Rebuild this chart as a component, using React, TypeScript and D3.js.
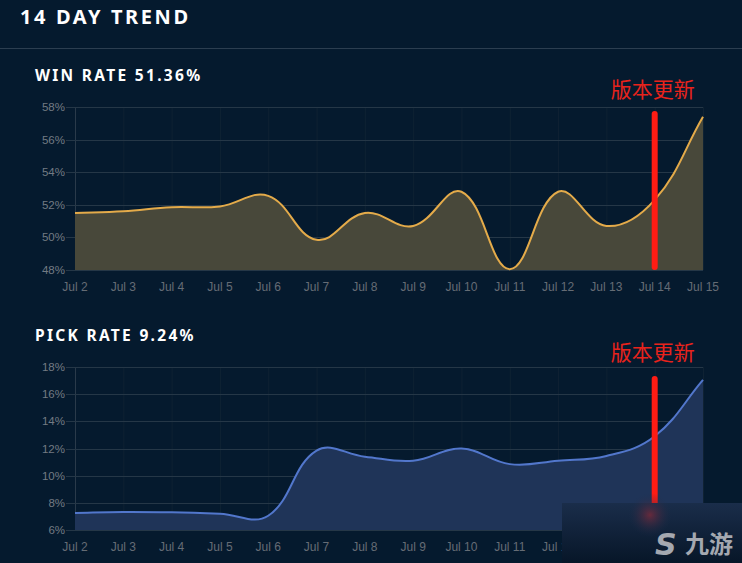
import React, { useEffect, useRef } from "react";
import * as d3 from "d3";

const dates = ["Jul 2", "Jul 3", "Jul 4", "Jul 5", "Jul 6", "Jul 7", "Jul 8", "Jul 9", "Jul 10", "Jul 11", "Jul 12", "Jul 13", "Jul 14", "Jul 15"];
const winRate = [51.5, 51.6, 51.85, 51.9, 52.55, 49.85, 51.5, 50.7, 52.8, 48.05, 52.8, 50.7, 52.3, 57.4];
const pickRate = [7.26, 7.33, 7.3, 7.2, 7.05, 11.85, 11.4, 11.1, 12.0, 10.85, 11.1, 11.45, 12.9, 17.05];
const winTicks = [48, 50, 52, 54, 56, 58];
const pickTicks = [6, 8, 10, 12, 14, 16, 18];
const patchDate = "Jul 14";
const patchLabel = "版本更新";

// chart.js style spline (tension 0.4), control points kept inside the plot
const splinePath = (pts: [number, number][], yMin: number, yMax: number, t = 0.4) => {
  const cps = pts.map((cur, i) => {
    const prev = pts[i - 1] || cur;
    const next = pts[i + 1] || cur;
    const d01 = Math.hypot(cur[0] - prev[0], cur[1] - prev[1]);
    const d12 = Math.hypot(next[0] - cur[0], next[1] - cur[1]);
    let s01 = d01 / (d01 + d12);
    let s12 = d12 / (d01 + d12);
    if (isNaN(s01)) s01 = 0;
    if (isNaN(s12)) s12 = 0;
    const fa = t * s01;
    const fb = t * s12;
    const clamp = (v: number) => Math.max(yMin, Math.min(yMax, v));
    return {
      prev: [cur[0] - fa * (next[0] - prev[0]), clamp(cur[1] - fa * (next[1] - prev[1]))],
      next: [cur[0] + fb * (next[0] - prev[0]), clamp(cur[1] + fb * (next[1] - prev[1]))],
    };
  });
  const p = d3.path();
  p.moveTo(pts[0][0], pts[0][1]);
  for (let i = 1; i < pts.length; i++) {
    p.bezierCurveTo(cps[i - 1].next[0], cps[i - 1].next[1], cps[i].prev[0], cps[i].prev[1], pts[i][0], pts[i][1]);
  }
  return p.toString();
};

const App = () => {
  const svgRef = useRef<SVGSVGElement>(null);

  useEffect(() => {
    const width = 742;
    const height = 563;
    const svg = d3.select(svgRef.current).attr("width", width).attr("height", height);
    svg.selectAll("*").remove();

    svg.append("rect").attr("width", width).attr("height", height).attr("fill", "#051a2e");

    svg
      .append("text")
      .attr("x", 20)
      .attr("y", 24)
      .attr("fill", "#ffffff")
      .attr("font-family", "'Noto Sans', sans-serif")
      .attr("font-weight", "bold")
      .attr("font-size", 20)
      .attr("letter-spacing", 2.6)
      .text("14 DAY TREND");

    svg.append("line").attr("x1", 0).attr("x2", width).attr("y1", 48.5).attr("y2", 48.5).attr("stroke", "#2c3e50");

    const x = d3.scalePoint().domain(dates).range([75, 703]);

    const drawChart = (opts: {
      title: string;
      titleY: number;
      values: number[];
      ticks: number[];
      top: number;
      bottom: number;
      line: string;
      fill: string;
      patchTop: number;
      patchBottom: number;
      labelY: number;
      xLabelMax: number;
    }) => {
      const { title, titleY, values, ticks, top, bottom, line, fill } = opts;
      const y = d3
        .scaleLinear()
        .domain([ticks[0], ticks[ticks.length - 1]])
        .range([bottom, top]);
      const g = svg.append("g");

      g.append("text")
        .attr("x", 35)
        .attr("y", titleY)
        .attr("fill", "#ffffff")
        .attr("font-family", "'Noto Sans', sans-serif")
        .attr("font-weight", "bold")
        .attr("font-size", 15.5)
        .attr("letter-spacing", 2.3)
        .text(title);

      // vertical grid
      g.selectAll(".vg")
        .data(dates)
        .join("line")
        .attr("x1", (d) => x(d)! + 0.5)
        .attr("x2", (d) => x(d)! + 0.5)
        .attr("y1", top)
        .attr("y2", bottom)
        .attr("stroke", (d, i) => (i === 0 ? "#2a3a4a" : "#0f2233"));

      // horizontal grid
      g.selectAll(".hg")
        .data(ticks)
        .join("line")
        .attr("x1", 66)
        .attr("x2", 703)
        .attr("y1", (d) => Math.round(y(d)) + 0.5)
        .attr("y2", (d) => Math.round(y(d)) + 0.5)
        .attr("stroke", "#253747");

      g.selectAll(".yl")
        .data(ticks)
        .join("text")
        .attr("x", 65)
        .attr("y", (d) => y(d) + 4)
        .attr("text-anchor", "end")
        .attr("fill", "#737a83")
        .attr("font-family", "'Liberation Sans', Arial, sans-serif")
        .attr("font-size", 11.5)
        .text((d) => `${d}%`);

      g.selectAll(".xl")
        .data(dates.filter((d) => x(d)! <= opts.xLabelMax))
        .join("text")
        .attr("x", (d) => x(d)!)
        .attr("y", bottom + 21)
        .attr("text-anchor", "middle")
        .attr("fill", "#656c75")
        .attr("font-family", "'Liberation Sans', Arial, sans-serif")
        .attr("font-size", 12)
        .text((d) => d);

      const pts = values.map((v, i) => [x(dates[i])!, y(v)] as [number, number]);
      const linePath = splinePath(pts, top, bottom);
      g.append("path")
        .attr("d", `${linePath}L${pts[pts.length - 1][0]},${bottom}L${pts[0][0]},${bottom}Z`)
        .attr("fill", fill);
      g.append("path").attr("d", linePath).attr("fill", "none").attr("stroke", line).attr("stroke-width", 2);

      g.append("line")
        .attr("x1", x(patchDate)!)
        .attr("x2", x(patchDate)!)
        .attr("y1", opts.patchTop)
        .attr("y2", opts.patchBottom)
        .attr("stroke", "#ff1c14")
        .attr("stroke-width", 6)
        .attr("stroke-linecap", "round");

      g.append("text")
        .attr("x", x(patchDate)! - 2)
        .attr("y", opts.labelY)
        .attr("text-anchor", "middle")
        .attr("fill", "#e8231c")
        .attr("font-family", "'Noto Sans CJK SC', sans-serif")
        .attr("font-size", 21)
        .text(patchLabel);
    };

    drawChart({
      title: "WIN RATE 51.36%",
      titleY: 81,
      values: winRate,
      ticks: winTicks,
      top: 107,
      bottom: 270,
      line: "#e4ab4a",
      fill: "#48483a",
      patchTop: 114,
      patchBottom: 267,
      labelY: 97,
      xLabelMax: 742,
    });

    drawChart({
      title: "PICK RATE 9.24%",
      titleY: 341,
      values: pickRate,
      ticks: pickTicks,
      top: 367,
      bottom: 530,
      line: "#5277cc",
      fill: "#1f3458",
      patchTop: 379,
      patchBottom: 520,
      labelY: 360,
      xLabelMax: 580,
    });

    // watermark corner
    const defs = svg.append("defs");
    const lg = defs.append("linearGradient").attr("id", "wm").attr("x1", 0).attr("y1", 0).attr("x2", 0).attr("y2", 1);
    lg.append("stop").attr("offset", "0%").attr("stop-color", "#1a2d4a");
    lg.append("stop").attr("offset", "100%").attr("stop-color", "#071628");
    const rg = defs.append("radialGradient").attr("id", "glow");
    rg.append("stop").attr("offset", "0%").attr("stop-color", "#7a2a3a").attr("stop-opacity", 0.8);
    rg.append("stop").attr("offset", "100%").attr("stop-color", "#1a2d4a").attr("stop-opacity", 0);
    svg.append("rect").attr("x", 562).attr("y", 503).attr("width", 180).attr("height", 60).attr("fill", "url(#wm)");
    svg.append("ellipse").attr("cx", 650).attr("cy", 515).attr("rx", 22).attr("ry", 22).attr("fill", "url(#glow)");
    svg
      .append("text")
      .attr("x", 655)
      .attr("y", 555)
      .attr("fill", "#a4a8b0")
      .attr("font-family", "'DejaVu Sans', sans-serif")
      .attr("font-weight", "bold")
      .attr("font-style", "italic")
      .attr("font-size", 30)
      .text("S");
    svg
      .append("text")
      .attr("x", 685)
      .attr("y", 553)
      .attr("fill", "#a4a8b0")
      .attr("font-family", "'Noto Sans CJK SC', sans-serif")
      .attr("font-weight", "bold")
      .attr("font-size", 24)
      .text("九游");
  }, []);

  return <svg ref={svgRef} style={{ position: "fixed", top: 0, left: 0, display: "block" }} />;
};

export default App;
